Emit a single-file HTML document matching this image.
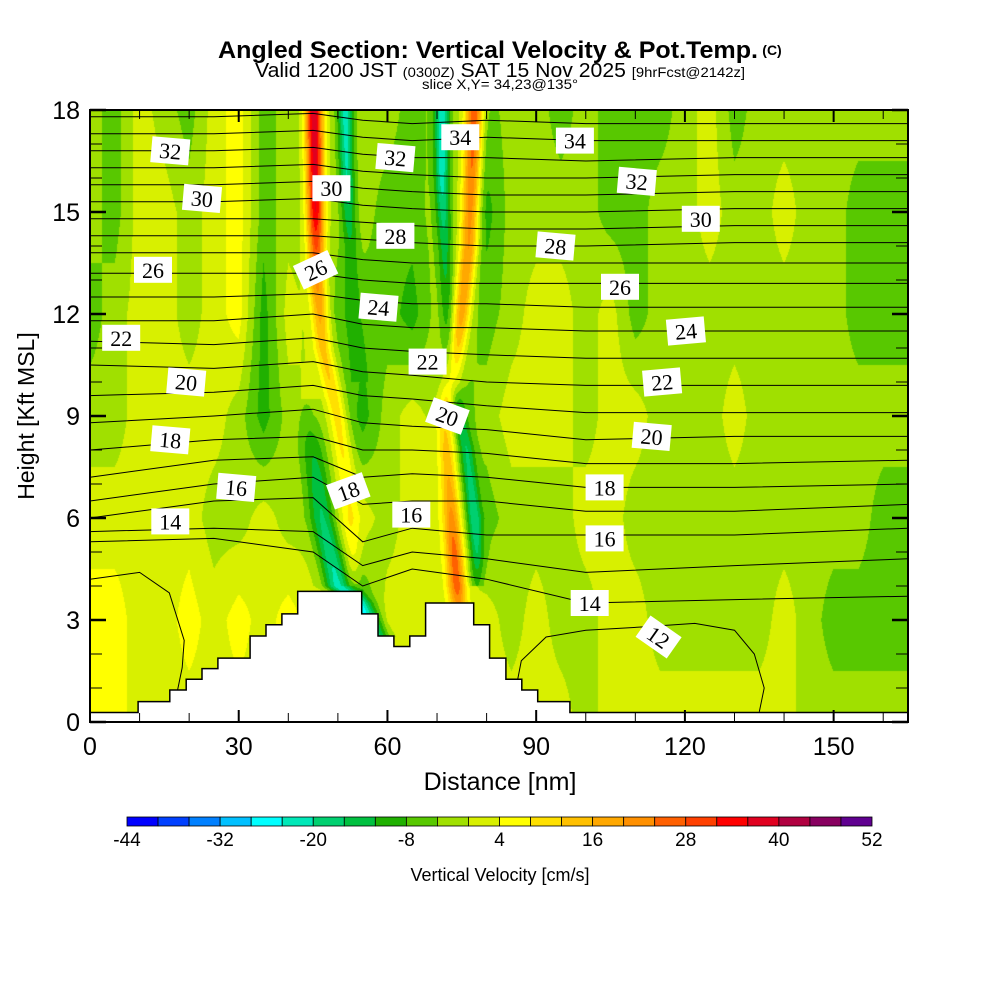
<!DOCTYPE html>
<html><head><meta charset="utf-8">
<style>
html,body{margin:0;padding:0;background:#fff;}
#wrap{position:relative;width:1000px;height:1000px;overflow:hidden;font-family:"Liberation Sans",sans-serif;}
canvas{position:absolute;left:90px;top:110px;}
svg{position:absolute;left:0;top:0;}
</style></head>
<body>
<div id="wrap">
<canvas id="fld" width="818" height="612"></canvas>
<svg id="sv" width="1000" height="1000">
 <text x="488" y="58" text-anchor="middle" font-size="24" font-weight="bold" textLength="540" lengthAdjust="spacingAndGlyphs">Angled Section: Vertical Velocity &amp; Pot.Temp.</text>
 <text x="772" y="55" text-anchor="middle" font-size="14" font-weight="bold">(C)</text>
 <text x="500" y="77" text-anchor="middle" font-size="20" textLength="490" lengthAdjust="spacingAndGlyphs">Valid 1200 JST <tspan font-size="14">(0300Z)</tspan> SAT 15 Nov 2025 <tspan font-size="14">[9hrFcst@2142z]</tspan></text>
 <text x="500" y="89" text-anchor="middle" font-size="14" textLength="156" lengthAdjust="spacingAndGlyphs">slice X,Y= 34,23@135°</text>
 <text x="500" y="790" text-anchor="middle" font-size="25">Distance [nm]</text>
 <text transform="translate(34,416) rotate(-90)" text-anchor="middle" font-size="23">Height [Kft MSL]</text>
 <text x="500" y="881" text-anchor="middle" font-size="18">Vertical Velocity [cm/s]</text>
 <g id="gL"></g><g id="gT"></g><g id="gLab"></g><g id="gAx"></g><g id="gCb"></g>
</svg>
</div>
<script>
// ---------- data ----------
const cbLevels=[-44,-40,-36,-32,-28,-24,-20,-16,-12,-8,-4,0,4,8,12,16,20,24,28,32,36,40,44,48,52];
const cbColors=["#0000ff","#0040ff","#0080ff","#00c0ff","#00ffff","#00e8b8","#00d070","#00c040","#20b000","#58c800","#a0e000","#d8f000","#ffff00","#ffe000","#ffc000","#ffa800","#ff9000","#ff6000","#ff4000","#ff0000","#e00020","#b00040","#880060","#600090"];
const cbTickLabels=[-44,-32,-20,-8,4,16,28,40,52];
const xTicks=[0,30,60,90,120,150];
const yTicks=[0,3,6,9,12,15,18];
const gridX=[0,5,10,15,20,25,30,35,40,45,50,55,60,65,70,75,80,85,90,95,100,105,110,115,120,125,130,135,140,145,150,155,160,165];
const gridZ=[18,15,12,9,6,3,0];
const wRow18=[-2,-6,2,-2,-6,2,6,-6,-2,-2,-2,-2,-2,-6,-2,-2,-6,-2,-2,-6,-2,-6,-6,-6,-2,2,-6,-2,-2,-2,-2,-2,-2,-2];
const wRow15=[-2,-6,2,2,-2,2,6,-6,-2,-2,-2,-2,-6,-6,-2,-2,-10,-2,-2,-2,-2,-6,-6,-2,-2,2,-2,-2,2,-2,-2,-6,-6,-6];
const wRow12=[-6,-2,2,2,-2,2,6,-10,2,-2,-6,-6,-6,-10,-2,-2,-6,-2,2,2,-2,2,-6,-2,-2,-2,-2,-2,-2,-2,-2,-6,-6,-6];
const wRow9=[-2,-2,2,2,2,2,-2,-10,-2,2,-2,-10,-2,2,-2,-6,-2,2,2,2,-2,2,2,-2,-2,-2,2,-2,-2,-2,-2,-2,-2,-2];
const wRow6=[2,2,2,2,2,-2,-2,2,-2,-2,2,2,-2,2,2,-2,-6,-2,-2,-2,2,2,-2,-2,-2,-2,-2,-2,-2,-2,-2,-2,-6,-6];
const wRow3=[6,6,2,2,6,2,6,2,6,2,2,-10,2,2,2,2,2,-2,2,-2,-2,2,2,-2,-2,-2,-2,-2,2,-2,-6,-6,-6,-6];
const wRow0=[6,6,2,2,2,2,2,2,2,2,2,2,2,2,2,2,2,2,2,2,-2,2,2,2,2,2,2,2,2,-2,-2,-2,-2,-2];
// streaks: [height kft, distance nm, amplitude cm/s]
const streakRedLeft=[[18,45.2,40],[15,45.5,36],[13,45.8,22],[11,47,14],[9,50,10],[7,52,6],[5,53,4],[4,52.5,2]];
const streakCyanUpper=[[18,51.5,-22],[16,51.8,-20],[14,52.5,-10],[12,53,-8],[10,54,-6]];
const streakCyanLower=[[9.5,44,-6],[8,45,-14],[6,47,-18],[5,48.5,-22],[4,50,-26],[3.5,54,-20],[2.5,58,-18]];
const streakCyanRight=[[18,71,-24],[16,71,-22],[14,71.5,-14],[12,72,-10],[10,73,-8],[8,76,-14],[6,77.5,-18],[5,78,-16],[4,78,-10]];
const streakOrangeRight=[[18,77.5,30],[16,77,26],[14,76.5,22],[12,75,18],[10,73,12],[9,71.5,12],[7,72.5,16],[5,73.5,24],[4,74,24],[3.2,74.5,14]];
const streakWidths=[1.8,1.5,2.6,1.5,1.8];
// terrain
const terrX=[0,9.7,16.1,19.4,22.6,25.8,32.3,35.5,38.7,41.9,45.2,54.8,58.1,61.3,64.5,67.7,74.2,77.4,80.6,83.9,87.1,90.3,96.8,165];
const terrH=[0.28,0.6,0.94,1.26,1.57,1.88,2.53,2.86,3.18,3.84,3.84,3.18,2.53,2.22,2.53,3.5,3.5,2.86,1.88,1.26,0.94,0.6,0.28,0.28];
// isentropes
const thetaLevels=[14,15,16,17,18,19,20,21,22,23,24,25,26,27,28,29,30,31,32,33,34,35];
const thetaKnotsX=[0,25,45,55,65,80,100,130,165];
const thetaHeights=[
[5.3,5.4,5.0,4.0,4.5,4.2,3.5,3.6,3.7],[5.6,5.7,5.6,4.6,5.0,4.8,4.4,4.6,4.8],[6.0,6.5,6.6,5.3,5.7,5.5,5.5,5.5,5.7],
[6.5,7.0,7.2,6.4,6.5,6.5,6.2,6.2,6.4],[7.2,7.7,7.8,7.2,7.3,7.2,6.9,6.9,7.0],[8.0,8.3,8.4,8.0,8.0,7.9,7.6,7.6,7.7],
[8.8,9.0,9.2,8.8,8.7,8.6,8.3,8.4,8.4],[9.6,9.7,9.9,9.6,9.5,9.3,9.1,9.1,9.1],[10.5,10.4,10.6,10.3,10.2,10.0,9.9,9.9,9.9],
[11.2,11.1,11.3,11.0,10.9,10.8,10.7,10.7,10.7],[11.8,11.8,12.0,11.7,11.6,11.6,11.5,11.5,11.5],[12.5,12.5,12.6,12.4,12.3,12.3,12.2,12.2,12.2],
[13.2,13.2,13.2,13.0,12.9,12.9,12.9,12.9,12.9],[13.8,13.8,13.8,13.6,13.5,13.5,13.5,13.5,13.5],[14.3,14.3,14.3,14.2,14.1,14.0,14.0,14.1,14.1],
[14.8,14.8,14.8,14.7,14.6,14.5,14.5,14.6,14.6],[15.3,15.3,15.4,15.2,15.1,15.0,15.0,15.1,15.1],[15.8,15.8,15.9,15.7,15.6,15.5,15.5,15.6,15.6],
[16.3,16.3,16.4,16.2,16.1,16.0,16.0,16.1,16.1],[16.8,16.8,16.9,16.7,16.6,16.6,16.5,16.6,16.6],[17.3,17.3,17.4,17.2,17.1,17.2,17.1,17.1,17.1],
[17.8,17.8,17.9,17.7,17.6,17.7,17.6,17.6,17.6]];
const loopLeftX=[0,10,16,19,18.6,17.6,16.2];
const loopLeftH=[4.2,4.4,3.8,2.4,1.6,0.9,0.6];
const loopRightX=[85,87,92,100,112,122,130,134,136,135];
const loopRightH=[0.3,1.8,2.5,2.7,2.8,2.9,2.7,2.0,1.0,0.3];
const labelTheta=[32,30,26,22,20,18,16,14,30,26,32,28,24,22,20,18,16,34,34,32,30,28,26,24,22,20,18,16,14,12];
const labelX=[16.2,22.6,12.7,6.3,19.4,16.2,29.5,16.2,48.7,45.5,61.6,61.6,58.2,68.1,72.1,52.1,64.8,74.7,97.8,110.3,123.2,93.9,106.9,120.2,115.4,113.3,103.8,103.8,100.8,114.7];
const labelH=[16.8,15.4,13.3,11.3,10.0,8.3,6.9,5.9,15.7,13.3,16.6,14.3,12.2,10.6,9.0,6.8,6.1,17.2,17.1,15.9,14.8,14.0,12.8,11.5,10.0,8.4,6.9,5.4,3.5,2.5];
const labelRot=[5,5,0,0,5,5,5,0,0,-25,5,0,5,0,20,-20,0,0,0,5,0,5,0,-5,-5,5,0,0,0,35];

// ---------- scales ----------
const X0=90,X1=908,Y0=722,Y1=110,XMAX=165,ZMAX=18;
const sx=v=>X0+v*(X1-X0)/XMAX;
const sy=v=>Y0-v*(Y0-Y1)/ZMAX;
const NS="http://www.w3.org/2000/svg";
function mk(tag,attrs,parent){const e=document.createElementNS(NS,tag);for(const k in attrs)e.setAttribute(k,attrs[k]);parent.appendChild(e);return e;}

// ---------- field ----------
const rows=[wRow18,wRow15,wRow12,wRow9,wRow6,wRow3,wRow0];
const streaks=[streakRedLeft,streakCyanUpper,streakCyanLower,streakCyanRight,streakOrangeRight];
function baseVal(x,z){
 let ci=Math.min(gridX.length-2,Math.floor(x/5));let tx=(x-gridX[ci])/5;
 let ri=Math.min(gridZ.length-2,Math.floor((18-z)/3));let tz=((18-z)-ri*3)/3;
 const a=rows[ri][ci]*(1-tx)+rows[ri][ci+1]*tx;
 const b=rows[ri+1][ci]*(1-tx)+rows[ri+1][ci+1]*tx;
 return a*(1-tz)+b*tz;
}
function streakAt(s,z){
 if(z>s[0][0]||z<s[s.length-1][0])return null;
 for(let i=0;i<s.length-1;i++){const p=s[i],q=s[i+1];if(z<=p[0]&&z>=q[0]){const t=(p[0]-z)/(p[0]-q[0]||1);return[p[1]+(q[1]-p[1])*t,p[2]+(q[2]-p[2])*t];}}
 return null;
}
(function(){
 const cv=document.getElementById('fld');const ctx=cv.getContext('2d');
 const W=cv.width,H=cv.height;const img=ctx.createImageData(W,H);
 const rgb=cbColors.map(c=>[parseInt(c.substr(1,2),16),parseInt(c.substr(3,2),16),parseInt(c.substr(5,2),16)]);
 for(let j=0;j<H;j++){
  const z=ZMAX*(1-(j+0.5)/H);
  const sc=streaks.map(s=>streakAt(s,z));
  for(let i=0;i<W;i++){
   const x=XMAX*(i+0.5)/W;
   let v=baseVal(x,z);
   for(let k=0;k<sc.length;k++){if(sc[k]){const d=(x-sc[k][0])/streakWidths[k];if(d*d<12)v+=(sc[k][1]+2)*Math.exp(-d*d);}}
   let idx=Math.floor((v-cbLevels[0])/4);idx=Math.max(0,Math.min(23,idx));
   const o=(j*W+i)*4;img.data[o]=rgb[idx][0];img.data[o+1]=rgb[idx][1];img.data[o+2]=rgb[idx][2];img.data[o+3]=255;
  }
 }
 ctx.putImageData(img,0,0);
})();

// ---------- isentropes ----------
const gL=document.getElementById('gL');
thetaLevels.forEach((th,k)=>{
 const d=thetaKnotsX.map((x,i)=>(i?'L':'M')+sx(x).toFixed(1)+','+sy(thetaHeights[k][i]).toFixed(1)).join(' ');
 const p=mk('path',{d:d,fill:'none',stroke:'#000','stroke-width':1},gL);
 
 
});
[[loopLeftX,loopLeftH,'isentrope-13-left'],[loopRightX,loopRightH,'isentrope-12-right']].forEach(a=>{
 const d=a[0].map((x,i)=>(i?'L':'M')+sx(x).toFixed(1)+','+sy(a[1][i]).toFixed(1)).join(' ');
 const p=mk('path',{d:d,fill:'none',stroke:'#000','stroke-width':1},gL);
 
 
});

// ---------- terrain ----------
const gT=document.getElementById('gT');
let td='M'+sx(0)+','+sy(0);
for(let i=0;i<terrX.length;i++){const xe=i<terrX.length-1?terrX[i+1]:XMAX;td+=' L'+sx(terrX[i]).toFixed(1)+','+sy(terrH[i]).toFixed(1)+' L'+sx(xe).toFixed(1)+','+sy(terrH[i]).toFixed(1);}
td+=' L'+sx(XMAX)+','+sy(0)+' Z';
const terr=mk('path',{d:td,fill:'#fff',stroke:'#000','stroke-width':1.5},gT);



// ---------- contour labels ----------
const gLab=document.getElementById('gLab');
labelTheta.forEach((th,i)=>{
 const cx=sx(labelX[i]),cy=sy(labelH[i]);
 const g=mk('g',{transform:'translate('+cx.toFixed(1)+','+cy.toFixed(1)+') rotate('+labelRot[i]+')'},gLab);
 
 
 mk('rect',{x:-19,y:-13,width:38,height:26,fill:'#fff'},g);
 const t=mk('text',{x:0,y:8,'text-anchor':'middle','font-size':22,'font-family':'"Liberation Serif",serif'},g);
 t.textContent=th;
});

// ---------- axes ----------
const gAx=document.getElementById('gAx');
const frame=mk('rect',{x:X0,y:Y1,width:X1-X0,height:Y0-Y1,fill:'none',stroke:'#000','stroke-width':2},gAx);


for(let v=0;v<=XMAX;v+=10){const L=(v%30===0)?12:9,x=sx(v);
 mk('line',{x1:x,y1:Y0,x2:x,y2:Y0-L,stroke:'#000','stroke-width':v%30===0?2:1},gAx);
 mk('line',{x1:x,y1:Y1,x2:x,y2:Y1+L,stroke:'#000','stroke-width':v%30===0?2:1},gAx);}
for(let v=0;v<=ZMAX;v+=1){const L=(v%3===0)?16:12,y=sy(v);
 mk('line',{x1:X0,y1:y,x2:X0+L,y2:y,stroke:'#000','stroke-width':v%3===0?2.5:1},gAx);
 mk('line',{x1:X1,y1:y,x2:X1-L,y2:y,stroke:'#000','stroke-width':v%3===0?2.5:1},gAx);}
xTicks.forEach(v=>{const t=mk('text',{x:sx(v),y:755,'text-anchor':'middle','font-size':25},gAx);t.textContent=v;
 
 });
yTicks.forEach(v=>{const t=mk('text',{x:80,y:sy(v)+9,'text-anchor':'end','font-size':25},gAx);t.textContent=v;
 
 });

// ---------- colorbar ----------
const gCb=document.getElementById('gCb');
const cbx=v=>127+(v-cbLevels[0])*(872-127)/(cbLevels[cbLevels.length-1]-cbLevels[0]);
cbColors.forEach((c,i)=>{
 const r=mk('rect',{x:cbx(cbLevels[i]),y:817,width:cbx(cbLevels[i+1])-cbx(cbLevels[i]),height:9,fill:c,stroke:'#000','stroke-width':0.8},gCb);
 
 
});
cbTickLabels.forEach(v=>{const t=mk('text',{x:cbx(v),y:846,'text-anchor':'middle','font-size':19},gCb);t.textContent=v;
 
 });
</script>
</body></html>
